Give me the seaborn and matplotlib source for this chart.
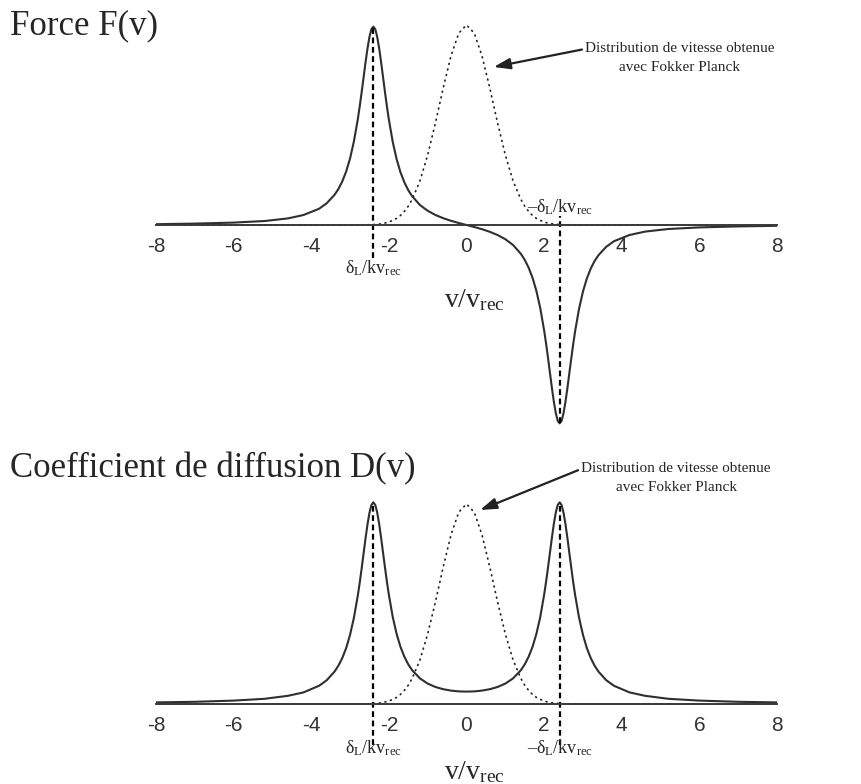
"""
Doppler cooling: force F(v) and diffusion coefficient D(v)
with the velocity distribution from Fokker-Planck (dotted)
"""
import seaborn as sns
import matplotlib.pyplot as plt
import pandas as pd

# values (peak height ~ 1)
v = [-8, -7, -6, -5.2, -4.6, -4.2, -3.8, -3.6, -3.4, -3.3, -3.2, -3.1, -3.0, -2.9,
     -2.8, -2.75, -2.7, -2.65, -2.6, -2.55, -2.5, -2.45, -2.4, -2.35, -2.3, -2.25,
     -2.2, -2.15, -2.1, -2.05, -2.0, -1.9, -1.8, -1.7, -1.6, -1.5, -1.4, -1.2,
     -1.0, -0.8, -0.6, -0.4, -0.2, 0,
     0.2, 0.4, 0.6, 0.8, 1.0, 1.2, 1.4, 1.5, 1.6, 1.7, 1.8, 1.9, 2.0, 2.05, 2.1,
     2.15, 2.2, 2.25, 2.3, 2.35, 2.4, 2.45, 2.5, 2.55, 2.6, 2.65, 2.7, 2.75, 2.8,
     2.9, 3.0, 3.1, 3.2, 3.3, 3.4, 3.6, 3.8, 4.2, 4.6, 5.2, 6, 7, 8]
force = [0.004, 0.007, 0.012, 0.020, 0.033, 0.050, 0.081, 0.109, 0.151, 0.180,
         0.218, 0.268, 0.333, 0.419, 0.529, 0.595, 0.666, 0.740, 0.815, 0.884,
         0.941, 0.979, 0.992, 0.979, 0.940, 0.883, 0.814, 0.739, 0.664, 0.592,
         0.527, 0.415, 0.329, 0.263, 0.213, 0.174, 0.144, 0.100, 0.071, 0.050,
         0.034, 0.021, 0.010, 0.0,
         -0.010, -0.021, -0.034, -0.050, -0.071, -0.100, -0.144, -0.174, -0.213,
         -0.263, -0.329, -0.415, -0.527, -0.592, -0.664, -0.739, -0.814, -0.883,
         -0.940, -0.979, -0.992, -0.979, -0.941, -0.884, -0.815, -0.740, -0.666,
         -0.595, -0.529, -0.419, -0.333, -0.268, -0.218, -0.180, -0.151, -0.109,
         -0.081, -0.050, -0.033, -0.020, -0.012, -0.007, -0.004]
diffusion = [0.008, 0.011, 0.017, 0.026, 0.041, 0.058, 0.091, 0.119, 0.162, 0.192,
             0.230, 0.280, 0.346, 0.432, 0.543, 0.608, 0.680, 0.755, 0.830, 0.899,
             0.956, 0.995, 1.008, 0.995, 0.957, 0.900, 0.831, 0.756, 0.682, 0.611,
             0.546, 0.435, 0.350, 0.285, 0.236, 0.198, 0.169, 0.128, 0.102, 0.085,
             0.074, 0.067, 0.063, 0.062,
             0.063, 0.067, 0.074, 0.085, 0.102, 0.128, 0.169, 0.198, 0.236, 0.285,
             0.350, 0.435, 0.546, 0.611, 0.682, 0.756, 0.831, 0.900, 0.957, 0.995,
             1.008, 0.995, 0.956, 0.899, 0.830, 0.755, 0.680, 0.608, 0.543, 0.432,
             0.346, 0.280, 0.230, 0.192, 0.162, 0.119, 0.091, 0.058, 0.041, 0.026,
             0.017, 0.011, 0.008]
distribution = [0, 0, 0, 0, 0, 0, 0, 0, 0, 0, 0, 0, 0, 0, 0, 0, 0.001, 0.001, 0.001,
                0.001, 0.001, 0.002, 0.002, 0.003, 0.004, 0.005, 0.006, 0.008,
                0.010, 0.012, 0.015, 0.023, 0.033, 0.048, 0.068, 0.094, 0.128,
                0.220, 0.350, 0.511, 0.685, 0.845, 0.959, 1.0,
                0.959, 0.845, 0.685, 0.511, 0.350, 0.220, 0.128, 0.094, 0.068,
                0.048, 0.033, 0.023, 0.015, 0.012, 0.010, 0.008, 0.006, 0.005,
                0.004, 0.003, 0.002, 0.002, 0.001, 0.001, 0.001, 0.001, 0.001, 0,
                0, 0, 0, 0, 0, 0, 0, 0, 0, 0, 0, 0, 0, 0, 0]
detuning = 2.4   # position of the resonances, delta_L / k v_rec
major_ticks = [-8, -6, -4, -2, 0, 2, 4, 6, 8]
minor_ticks = [-7, -5, -3, -1, 1, 3, 5, 7]

df = pd.DataFrame({'v': v, 'F': force, 'D': diffusion, 'P': distribution})

sns.set_style("white")
plt.rcParams['font.family'] = ['Liberation Serif', 'DejaVu Serif']
plt.rcParams['mathtext.fontset'] = 'custom'
plt.rcParams['mathtext.rm'] = 'Liberation Serif'
plt.rcParams['mathtext.it'] = 'Liberation Serif:italic'
plt.rcParams['axes.unicode_minus'] = False

W, H = 862, 784
fig = plt.figure(figsize=(W / 100, H / 100), dpi=100)
ax1 = fig.add_axes([156 / W, 1 - 435 / H, 621 / W, 420 / H])
ax2 = fig.add_axes([156 / W, 1 - 780 / H, 621 / W, 290 / H])

curve = '#2f2f2f'
dash = (0, (2.6, 1.6))
dots = (0, (0.5, 2.8))
lbl = r'$\mathrm{δ_L/kv_{rec}}$'
nlbl = '–' + lbl


def setup(ax, ylim):
    ax.set_xlim(-8, 8)
    ax.set_ylim(*ylim)
    for s in ['top', 'right', 'left']:
        ax.spines[s].set_visible(False)
    ax.spines['bottom'].set_position(('data', 0))
    ax.spines['bottom'].set_linewidth(1.4)
    ax.spines['bottom'].set_color('#3a3a3a')
    ax.set_yticks([])
    ax.set_xticks(major_ticks)
    ax.set_xticks(minor_ticks, minor=True)
    ax.set_xticklabels([str(t) for t in major_ticks], family='Liberation Sans',
                       fontsize=15, color='#333333')
    ax.tick_params(axis='x', which='major', direction='out', length=5.5,
                   width=1.3, color='#3a3a3a', pad=3)
    ax.tick_params(axis='x', which='minor', direction='out', length=3.2,
                   width=1.1, color='#3a3a3a')
    ax.set_xlabel('')
    ax.set_ylabel('')
    ax.patch.set_alpha(0)


# ---- top: force
sns.lineplot(data=df, x='v', y='P', ax=ax1, color='#222222', lw=1.25,
             linestyle=dots, dash_capstyle='round')
sns.lineplot(data=df, x='v', y='F', ax=ax1, color=curve, lw=1.5)
setup(ax1, (-1.05, 1.05))
fpk = max(force)
ax1.vlines(-detuning, -0.165, fpk, colors='black', lw=1.6,
           linestyles=dash, clip_on=False)
ax1.vlines(detuning, min(force), 0.045, colors='black', lw=1.6,
           linestyles=dash, clip_on=False)
ax1.text(-detuning, -0.215, lbl, ha='center', va='center', fontsize=13)
ax1.text(detuning, 0.09, nlbl, ha='center', va='center', fontsize=13)
ax1.text(0.2, -0.375, r'$\mathrm{v/v_{rec}}$', ha='center', va='center',
         fontsize=20, clip_on=False)
ax1.annotate('Distribution de vitesse obtenue\navec Fokker Planck',
             xy=(0.7, 0.79), xytext=(5.5, 0.835), ha='center', va='center',
             fontsize=11, linespacing=1.65,
             arrowprops=dict(arrowstyle='-|>,head_length=0.9,head_width=0.3',
                             lw=1.6, color='#222222', shrinkA=0, shrinkB=0,
                             relpos=(0.0, 0.78)))

# ---- bottom: diffusion
sns.lineplot(data=df, x='v', y='P', ax=ax2, color='#222222', lw=1.25,
             linestyle=dots, dash_capstyle='round')
sns.lineplot(data=df, x='v', y='D', ax=ax2, color=curve, lw=1.5)
setup(ax2, (-0.38, 1.07))
dpk = max(diffusion)
for x in (-detuning, detuning):
    ax2.vlines(x, -0.205, dpk, colors='black', lw=1.6,
               linestyles=dash, clip_on=False)
ax2.text(-detuning, -0.22, lbl, ha='center', va='center', fontsize=13)
ax2.text(detuning, -0.22, nlbl, ha='center', va='center', fontsize=13)
ax2.text(0.2, -0.34, r'$\mathrm{v/v_{rec}}$', ha='center', va='center',
         fontsize=20, clip_on=False)
ax2.annotate('Distribution de vitesse obtenue\navec Fokker Planck',
             xy=(0.35, 0.97), xytext=(5.4, 1.13), ha='center', va='center',
             fontsize=11, linespacing=1.65, annotation_clip=False,
             arrowprops=dict(arrowstyle='-|>,head_length=0.9,head_width=0.3',
                             lw=1.6, color='#222222', shrinkA=0, shrinkB=0,
                             relpos=(0.0, 0.78)))

fig.text(10 / W, 1 - 34 / H, 'Force F(v)', fontsize=25, va='baseline')
fig.text(10 / W, 1 - 477 / H, 'Coefficient de diffusion D(v)', fontsize=25,
         va='baseline')

fig.savefig('out.png', dpi=100)
